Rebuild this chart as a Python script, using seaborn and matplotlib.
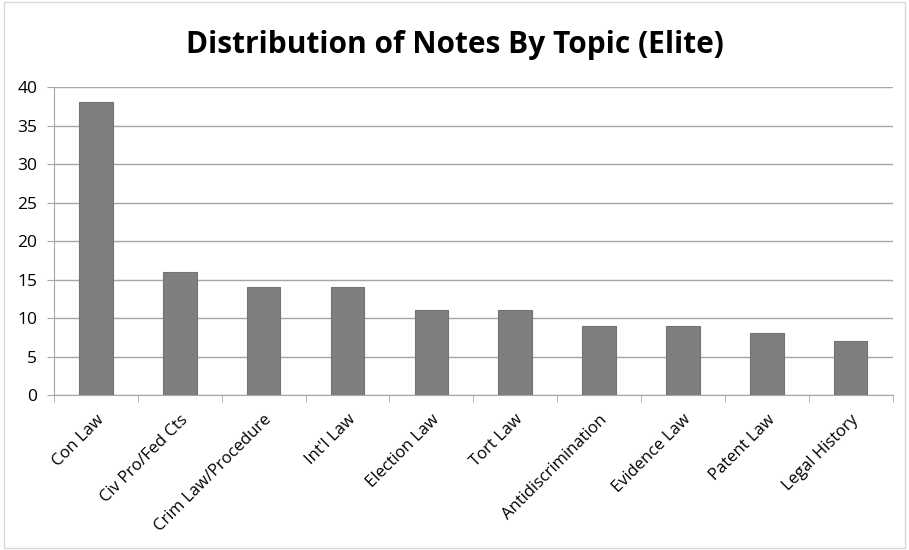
import numpy as np
import pandas as pd
import matplotlib
matplotlib.use("Agg")
import matplotlib.pyplot as plt
import seaborn as sns

sns.set_style("white")
plt.rcParams['font.family'] = ['Open Sans', 'DejaVu Sans']
plt.rcParams['text.color'] = 'black'
plt.rcParams['xtick.labelcolor'] = 'black'
plt.rcParams['ytick.labelcolor'] = 'black'

topics = ["Con Law", "Civ Pro/Fed Cts", "Crim Law/Procedure", "Int'l Law", "Election Law",
          "Tort Law", "Antidiscrimination", "Evidence Law", "Patent Law", "Legal History"]
counts = [38, 16, 14, 14, 11, 11, 9, 9, 8, 7]

df = pd.DataFrame({"topic": topics, "count": counts})

fig = plt.figure(figsize=(9.09, 5.5), dpi=100)
ax = fig.add_axes([0.0594, 0.2818, 0.9226, 0.56])

sns.barplot(data=df, x="topic", y="count", color="#7f7f7f", saturation=1,
            width=0.4, edgecolor="#737373", linewidth=0.8, ax=ax, zorder=3)

ax.set_ylim(0, 40)
ax.set_yticks(np.arange(0, 41, 5))
ax.set_xlim(-0.5, len(topics) - 0.5)
ax.grid(axis="y", color="#a6a6a6", linewidth=1, zorder=0)
ax.set_axisbelow(True)
for s in ["top", "right"]:
    ax.spines[s].set_visible(False)
ax.spines["left"].set_color("#a6a6a6")
ax.spines["bottom"].set_color("#a6a6a6")
ax.set_xlabel("")
ax.set_ylabel("")

# category boundary ticks
ax.set_xticks(np.arange(len(topics)))
ax.set_xticklabels(topics, rotation=45, ha="right", rotation_mode="anchor", fontsize=12)
ax.tick_params(axis="x", length=0, pad=12)
ax.set_xticks(np.arange(-0.5, len(topics)), minor=True)
ax.tick_params(axis="x", which="minor", length=5, color="#a6a6a6", bottom=True)
ax.tick_params(axis="y", length=5, color="#a6a6a6", left=True, labelsize=12.5, pad=7)

fig.suptitle("Distribution of Notes By Topic (Elite)", fontsize=21.5, fontweight="bold",
             y=0.945)

fig.patches.append(plt.Rectangle((0.004, 0.004), 0.992, 0.992, transform=fig.transFigure,
                                 fill=False, edgecolor="#d9d9d9", linewidth=1))

fig.savefig("out.png", dpi=100)
